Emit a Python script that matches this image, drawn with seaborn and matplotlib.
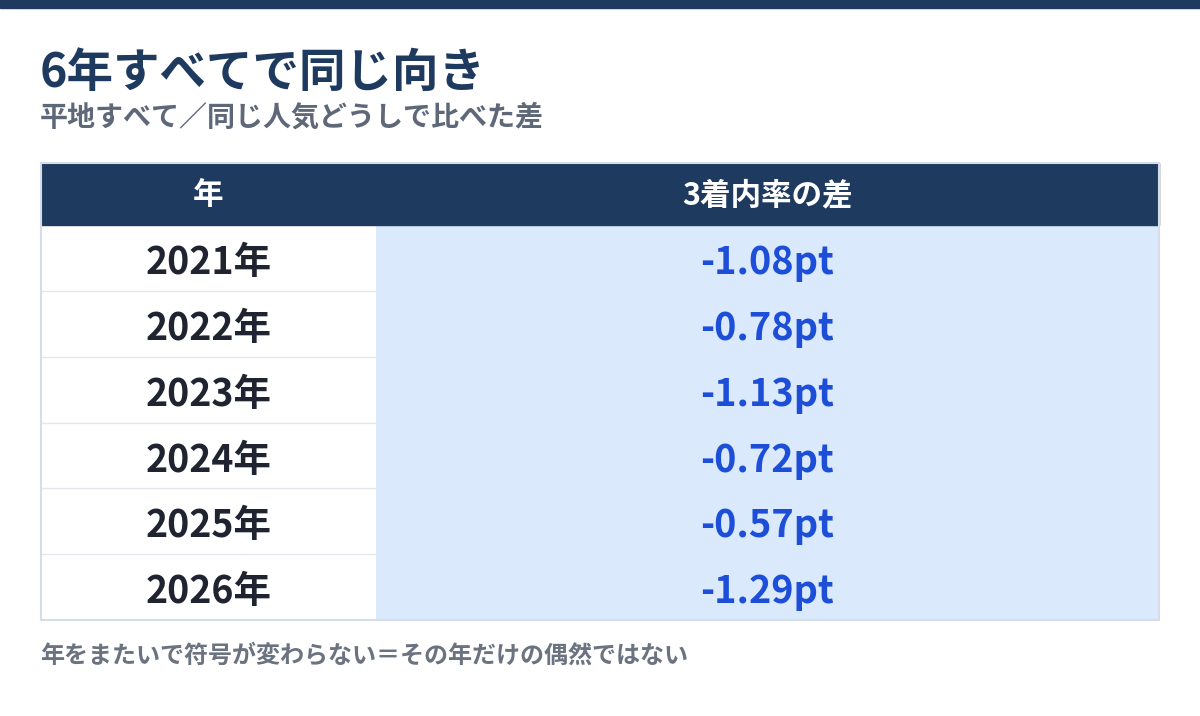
import matplotlib
matplotlib.use('Agg')
import matplotlib.pyplot as plt
from matplotlib.colors import ListedColormap
from matplotlib.patches import Rectangle
import seaborn as sns
import numpy as np
import pandas as pd

years = ["2021年", "2022年", "2023年", "2024年", "2025年", "2026年"]
diffs = [-1.08, -0.78, -1.13, -0.72, -0.57, -1.29]
col_headers = ["年", "3着内率の差"]
title = "6年すべてで同じ向き"
subtitle = "平地すべて／同じ人気どうしで比べた差"
note = "年をまたいで符号が変わらない＝その年だけの偶然ではない"

sns.set_theme(style="white")
plt.rcParams['font.family'] = ['Noto Sans CJK JP', 'DejaVu Sans']

NAVY = '#1F3A5F'
W, H = 1200, 716

def fx(x):
    return x / W

def fy(y):
    return 1 - y / H

fig = plt.figure(figsize=(12, 7.16), dpi=100)
fig.patch.set_facecolor('white')

# top band
fig.patches.append(Rectangle((0, fy(8)), 1, 8 / H, transform=fig.transFigure,
                             color=NAVY, zorder=0))

fig.text(fx(40), fy(73), title, fontsize=33.5, fontweight='bold', color=NAVY,
         va='center', ha='left')
fig.text(fx(40), fy(118), subtitle, fontsize=20.2, fontweight='bold', color='#5F6878',
         va='center', ha='left')

df = pd.DataFrame({"year": years, "diff": diffs})
df["label"] = df["diff"].map(lambda v: f"{v:.2f}pt")

top, bottom = 225, 620
split = 376
left, right = 41, 1159

# year column
ax_l = fig.add_axes([fx(left), fy(bottom), fx(split - left), (bottom - top) / H])
sns.heatmap(np.zeros((len(df), 1)), ax=ax_l, cmap=ListedColormap(['white']),
            annot=df[["year"]].values, fmt='', cbar=False, vmin=0, vmax=1,
            annot_kws=dict(fontsize=27, fontweight='bold', color='#1F2430'))
for i in range(1, len(df)):
    ax_l.axhline(i, color='#E3E6EC', lw=1)
ax_l.set_xticks([])
ax_l.set_yticks([])

# value column
ax_r = fig.add_axes([fx(split), fy(bottom), fx(right - split), (bottom - top) / H])
sns.heatmap(df[["diff"]].values, ax=ax_r, cmap=ListedColormap(['#DBE9FD']),
            annot=df[["label"]].values, fmt='', cbar=False,
            annot_kws=dict(fontsize=27.3, fontweight='bold', color='#1D4ED8'))
ax_r.set_xticks([])
ax_r.set_yticks([])

# nudge cell labels a touch lower
for ax in (ax_l, ax_r):
    for t in ax.texts:
        x, y = t.get_position()
        t.set_position((x, y + 0.07))

# header
fig.patches.append(Rectangle((fx(left), fy(top)), fx(right - left), (top - 163) / H,
                             transform=fig.transFigure, color=NAVY, zorder=3))
fig.text(fx((left + split) / 2), fy(195), col_headers[0], fontsize=22, fontweight='bold',
         color='white', ha='center', va='center', zorder=4)
fig.text(fx((split + right) / 2), fy(195), col_headers[1], fontsize=22, fontweight='bold',
         color='white', ha='center', va='center', zorder=4)

# outer border
fig.patches.append(Rectangle((fx(left), fy(bottom)), fx(right - left), (bottom - 163) / H,
                             transform=fig.transFigure, fill=False, edgecolor='#D5DDE8',
                             lw=1.5, zorder=5))

fig.text(fx(40), fy(656), note, fontsize=17.3, fontweight='bold', color='#6B7280',
         va='center', ha='left')

fig.savefig("out.png", dpi=100)
